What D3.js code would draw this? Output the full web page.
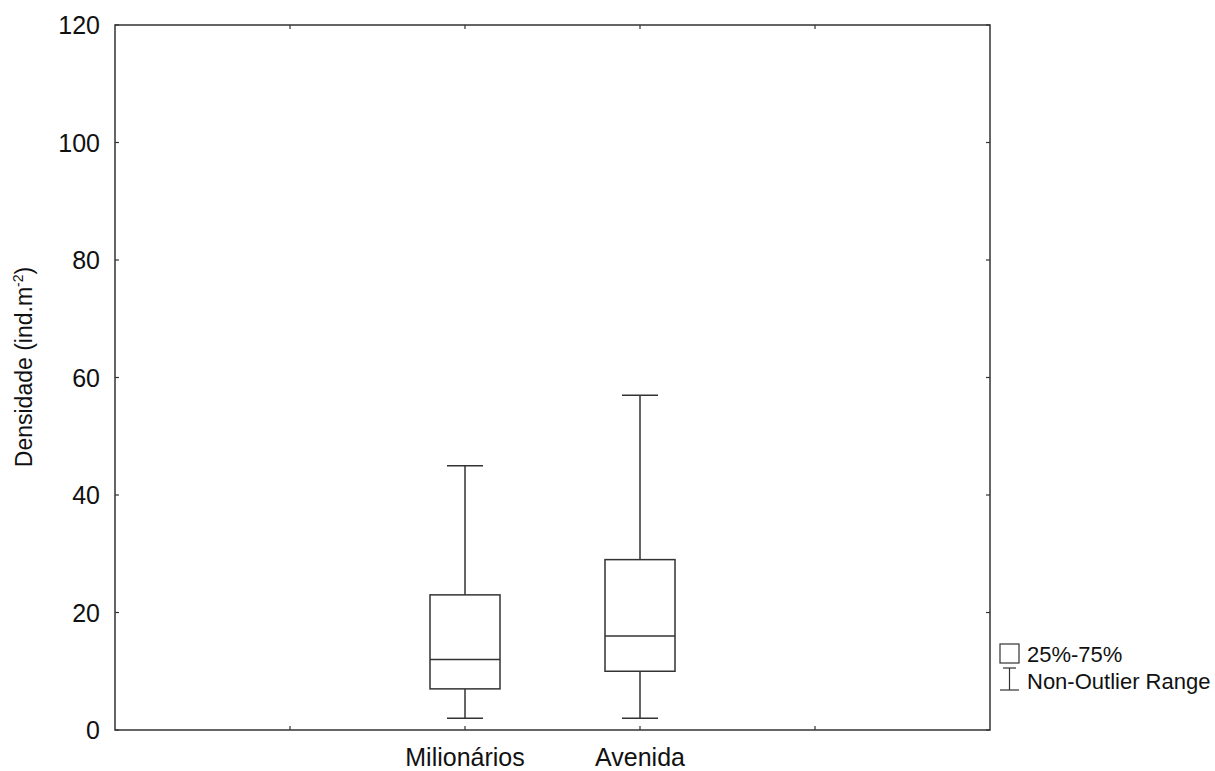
<!DOCTYPE html>
<html>
<head>
<meta charset="utf-8">
<script src="https://cdn.jsdelivr.net/npm/d3@7"></script>
<style>
  body { margin: 0; background: #fff; }
  svg text { font-family: Arial, "Liberation Sans", sans-serif; fill: #111; }
</style>
</head>
<body>
<div id="chart"></div>
<script>
// Box plot data (ind.m-2)
const categories = ["Milionários", "Avenida"];
const catSlots = [2, 3];            // position of each category on the 0..5 x range
const whiskerMin = [2, 2];
const q1 = [7, 10];
const median = [12, 16];
const q3 = [23, 29];
const whiskerMax = [45, 57];
const yTicks = [0, 20, 40, 60, 80, 100, 120];
const xTicks = [1, 2, 3, 4];

const boxes = categories.map((c, i) => ({
  name: c, slot: catSlots[i], min: whiskerMin[i], q1: q1[i],
  med: median[i], q3: q3[i], max: whiskerMax[i]
}));

const W = 1215, H = 771;
const margin = { top: 25, right: 225, bottom: 41, left: 115 };
const width = W - margin.left - margin.right;
const height = H - margin.top - margin.bottom;
const stroke = "#333";

const svg = d3.select("#chart").append("svg")
  .attr("width", W).attr("height", H);

const g = svg.append("g")
  .attr("transform", `translate(${margin.left},${margin.top})`);

const x = d3.scaleLinear().domain([0, 5]).range([0, width]);
const y = d3.scaleLinear().domain([0, 120]).range([height, 0]);

// Frame
g.append("rect")
  .attr("width", width).attr("height", height)
  .attr("fill", "none").attr("stroke", stroke).attr("stroke-width", 1.5);

// Inner ticks on all four sides
const tl = 4;
g.selectAll(".ytl").data(yTicks).enter().append("line")
  .attr("x1", 0).attr("x2", tl).attr("y1", d => y(d)).attr("y2", d => y(d))
  .attr("stroke", stroke).attr("stroke-width", 1.2);
g.selectAll(".ytr").data(yTicks).enter().append("line")
  .attr("x1", width).attr("x2", width - tl).attr("y1", d => y(d)).attr("y2", d => y(d))
  .attr("stroke", stroke).attr("stroke-width", 1.2);
g.selectAll(".xtb").data(xTicks).enter().append("line")
  .attr("x1", d => x(d)).attr("x2", d => x(d)).attr("y1", height).attr("y2", height - tl)
  .attr("stroke", stroke).attr("stroke-width", 1.2);
g.selectAll(".xtt").data(xTicks).enter().append("line")
  .attr("x1", d => x(d)).attr("x2", d => x(d)).attr("y1", 0).attr("y2", tl)
  .attr("stroke", stroke).attr("stroke-width", 1.2);

// Y tick labels
g.selectAll(".ylab").data(yTicks).enter().append("text")
  .attr("x", -15).attr("y", d => y(d))
  .attr("dy", "0.36em")
  .attr("text-anchor", "end")
  .style("font-size", "25px")
  .text(d => d);

// X category labels
g.selectAll(".xlab").data(boxes).enter().append("text")
  .attr("x", d => x(d.slot)).attr("y", height + 36)
  .attr("text-anchor", "middle")
  .style("font-size", "25px")
  .text(d => d.name);

// Y axis title
svg.append("text")
  .attr("transform", `translate(32,367) rotate(-90)`)
  .attr("text-anchor", "middle")
  .style("font-size", "23px")
  .html('Densidade (ind.m<tspan dy="-9" font-size="14px">-2</tspan><tspan dy="9">)</tspan>');

// Boxes
const boxW = 70, capW = 36;
const bx = g.selectAll(".box").data(boxes).enter().append("g");

bx.append("line")
  .attr("x1", d => x(d.slot)).attr("x2", d => x(d.slot))
  .attr("y1", d => y(d.max)).attr("y2", d => y(d.q3))
  .attr("stroke", stroke).attr("stroke-width", 1.5);
bx.append("line")
  .attr("x1", d => x(d.slot)).attr("x2", d => x(d.slot))
  .attr("y1", d => y(d.q1)).attr("y2", d => y(d.min))
  .attr("stroke", stroke).attr("stroke-width", 1.5);
bx.append("line")
  .attr("x1", d => x(d.slot) - capW / 2).attr("x2", d => x(d.slot) + capW / 2)
  .attr("y1", d => y(d.max)).attr("y2", d => y(d.max))
  .attr("stroke", stroke).attr("stroke-width", 1.5);
bx.append("line")
  .attr("x1", d => x(d.slot) - capW / 2).attr("x2", d => x(d.slot) + capW / 2)
  .attr("y1", d => y(d.min)).attr("y2", d => y(d.min))
  .attr("stroke", stroke).attr("stroke-width", 1.5);
bx.append("rect")
  .attr("x", d => x(d.slot) - boxW / 2).attr("width", boxW)
  .attr("y", d => y(d.q3)).attr("height", d => y(d.q1) - y(d.q3))
  .attr("fill", "#fff").attr("stroke", stroke).attr("stroke-width", 1.5);
bx.append("line")
  .attr("x1", d => x(d.slot) - boxW / 2).attr("x2", d => x(d.slot) + boxW / 2)
  .attr("y1", d => y(d.med)).attr("y2", d => y(d.med))
  .attr("stroke", stroke).attr("stroke-width", 1.5);

// Legend
const lg = svg.append("g").attr("transform", `translate(1000,644)`);
lg.append("rect")
  .attr("x", 0).attr("y", 0).attr("width", 19).attr("height", 19)
  .attr("fill", "#fff").attr("stroke", stroke).attr("stroke-width", 1.2);
lg.append("text").attr("x", 27).attr("y", 18)
  .style("font-size", "22px").text("25%-75%");
lg.append("line").attr("x1", 9.5).attr("x2", 9.5).attr("y1", 24).attr("y2", 46)
  .attr("stroke", stroke).attr("stroke-width", 1.2);
lg.append("line").attr("x1", 3).attr("x2", 16).attr("y1", 24).attr("y2", 24)
  .attr("stroke", stroke).attr("stroke-width", 1.2);
lg.append("line").attr("x1", 0).attr("x2", 19).attr("y1", 46).attr("y2", 46)
  .attr("stroke", stroke).attr("stroke-width", 1.2);
lg.append("text").attr("x", 27).attr("y", 45)
  .style("font-size", "22px").text("Non-Outlier Range");
</script>
</body>
</html>
